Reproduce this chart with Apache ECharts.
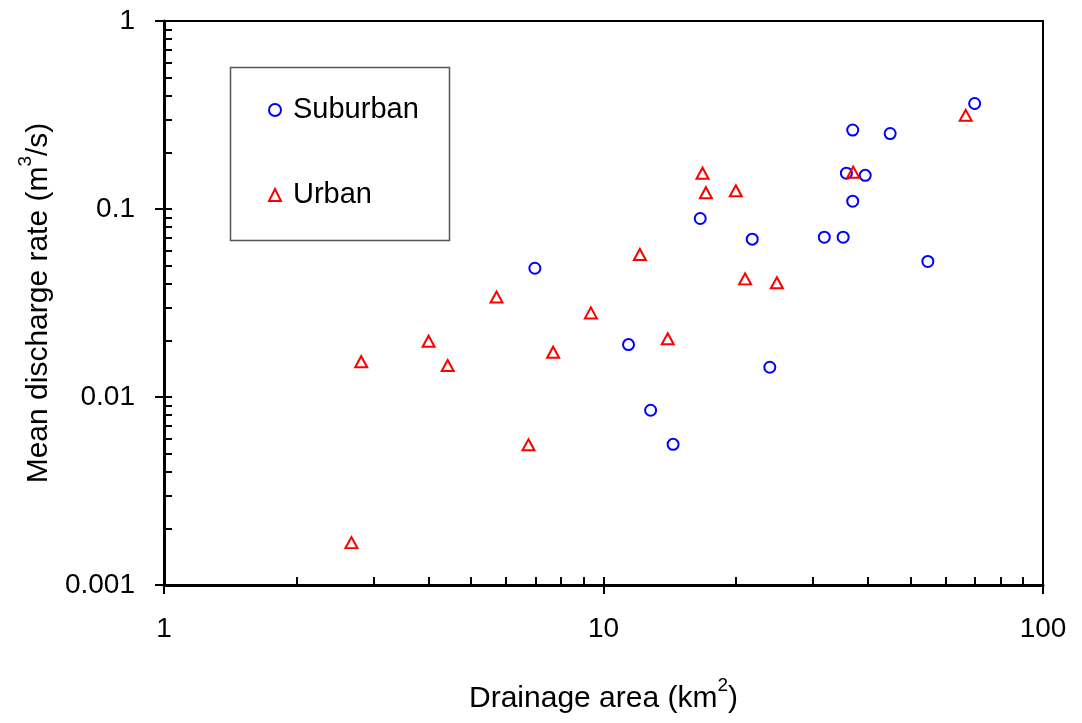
<!DOCTYPE html>
<html>
<head>
<meta charset="utf-8">
<script src="https://cdn.jsdelivr.net/npm/echarts@6/dist/echarts.min.js"></script>
<style>
html,body{margin:0;padding:0;background:#fff;}
#chart{width:1082px;height:723px;}
</style>
</head>
<body>
<div id="chart"></div>
<script>
// Suburban (circles): drainage area (km2) and mean discharge (m3/s)
const suburbanArea = [69.9, 36.9, 44.9, 35.7, 39.4, 36.9, 16.6, 21.8, 31.8, 35.1, 54.7, 6.98, 11.4, 23.9, 12.8, 14.4];
const suburbanQ    = [0.364, 0.263, 0.252, 0.155, 0.151, 0.110, 0.089, 0.0691, 0.0708, 0.0708, 0.0526, 0.0484, 0.019, 0.0144, 0.0085, 0.0056];
// Urban (triangles)
const urbanArea = [66.7, 16.8, 17.1, 20.0, 37.0, 12.1, 21.0, 24.8, 5.71, 9.36, 4.0, 2.81, 4.42, 7.68, 6.75, 2.67, 14.0];
const urbanQ    = [0.315, 0.155, 0.122, 0.125, 0.157, 0.0573, 0.0425, 0.0405, 0.034, 0.028, 0.0198, 0.0154, 0.0147, 0.0173, 0.00557, 0.00168, 0.0204];

const seriesNames = ['Suburban', 'Urban'];
const xTickValues = [1, 10, 100];
const yTickValues = [0.001, 0.01, 0.1, 1];
const xMinorTicks = [1,2,3,4,5,6,7,8,9,10,20,30,40,50,60,70,80,90,100];
const yMinorTicks = [0.001,0.002,0.003,0.004,0.005,0.006,0.007,0.008,0.009,0.01,0.02,0.03,0.04,0.05,0.06,0.07,0.08,0.09,0.1,0.2,0.3,0.4,0.5,0.6,0.7,0.8,0.9,1];
const xAxisTitle = ['Drainage area (km', '2', ')'];
const yAxisTitle = ['Mean discharge rate (m', '3', '/s)'];

const FONT = '"Liberation Sans", Arial, sans-serif';
const pair = (xs, ys) => xs.map((x, i) => [x, ys[i]]);
const fmt = v => String(Number(Number(v).toPrecision(3)));

const chart = echarts.init(document.getElementById('chart'), null, {renderer: 'canvas'});
const grid = {left: 164, right: 39, top: 21, bottom: 138, show: true, borderColor: '#000', borderWidth: 2, backgroundColor: 'transparent'};

const nameRich = {
  n: {fontSize: 30, fontFamily: FONT, color: '#000', lineHeight: 38, verticalAlign: 'bottom'},
  s: {fontSize: 19, fontFamily: FONT, color: '#000', lineHeight: 20, verticalAlign: 'top', padding: [0, 0, 0, 0]}
};

const option = {
  backgroundColor: '#fff',
  animation: false,
  grid: grid,
  xAxis: [{
    type: 'log', logBase: 10, min: 1, max: 100, gridIndex: 0, position: 'bottom',
    axisLine: {show: true, lineStyle: {color: '#000', width: 3}},
    axisTick: {show: true, inside: false, length: 9, lineStyle: {color: '#000', width: 2}, customValues: xTickValues},
    axisLabel: {show: true, color: '#000', fontSize: 28, fontFamily: FONT, margin: 30, formatter: fmt, customValues: xTickValues},
    splitLine: {show: false},
    name: '{n|' + xAxisTitle[0] + '}{s|' + xAxisTitle[1] + '}{n|' + xAxisTitle[2] + '}',
    nameLocation: 'middle', nameGap: 91,
    nameTextStyle: {rich: nameRich}
  }, {
    type: 'log', logBase: 10, min: 1, max: 100, gridIndex: 0, position: 'bottom',
    axisLine: {show: false},
    axisTick: {show: true, inside: true, length: 8, lineStyle: {color: '#000', width: 2}, customValues: xMinorTicks},
    axisLabel: {show: false},
    splitLine: {show: false}
  }],
  yAxis: [{
    type: 'log', logBase: 10, min: 0.001, max: 1, gridIndex: 0, position: 'left',
    axisLine: {show: true, lineStyle: {color: '#000', width: 3}},
    axisTick: {show: true, inside: false, length: 9, lineStyle: {color: '#000', width: 2}, customValues: yTickValues},
    axisLabel: {show: true, color: '#000', fontSize: 28, fontFamily: FONT, margin: 29, formatter: fmt, customValues: yTickValues},
    splitLine: {show: false},
    name: '{n|' + yAxisTitle[0] + '}{s|' + yAxisTitle[1] + '}{n|' + yAxisTitle[2] + '}',
    nameLocation: 'middle', nameGap: 102, nameRotate: 90,
    nameTextStyle: {rich: nameRich}
  }, {
    type: 'log', logBase: 10, min: 0.001, max: 1, gridIndex: 0, position: 'left',
    axisLine: {show: false},
    axisTick: {show: true, inside: true, length: 8, lineStyle: {color: '#000', width: 2}, customValues: yMinorTicks},
    axisLabel: {show: false},
    splitLine: {show: false}
  }],
  legend: [{
    data: [{name: seriesNames[0], icon: 'circle', itemStyle: {color: 'rgba(0,0,0,0)', borderColor: '#0000ff', borderWidth: 2}}],
    orient: 'vertical', left: 268, top: 95, padding: 0, itemWidth: 12, itemHeight: 12,
    selectedMode: false,
    textStyle: {fontSize: 29, fontFamily: FONT, color: '#000', padding: [0, 0, 0, 7], lineHeight: 30}
  }, {
    data: [{name: seriesNames[1], icon: 'triangle', itemStyle: {color: 'rgba(0,0,0,0)', borderColor: '#ff0000', borderWidth: 2}}],
    orient: 'vertical', left: 268, top: 180, padding: 0, itemWidth: 12, itemHeight: 12,
    selectedMode: false,
    textStyle: {fontSize: 29, fontFamily: FONT, color: '#000', padding: [0, 0, 0, 7], lineHeight: 30}
  }],
  graphic: [{
    type: 'rect', left: 228, top: 65, z: 100,
    shape: {width: 219, height: 173},
    style: {fill: 'none', stroke: '#555', lineWidth: 1.5}
  }],
  series: [{
    name: seriesNames[0], type: 'scatter', xAxisIndex: 0, yAxisIndex: 0,
    symbol: 'circle', symbolSize: 11,
    itemStyle: {color: 'rgba(0,0,0,0)', borderColor: '#0000ff', borderWidth: 2, opacity: 1},
    data: pair(suburbanArea, suburbanQ)
  }, {
    name: seriesNames[1], type: 'scatter', xAxisIndex: 0, yAxisIndex: 0,
    symbol: 'triangle', symbolSize: [12, 11],
    itemStyle: {color: 'rgba(0,0,0,0)', borderColor: '#ff0000', borderWidth: 2, opacity: 1},
    data: pair(urbanArea, urbanQ)
  }]
};
chart.setOption(option);
</script>
</body>
</html>
